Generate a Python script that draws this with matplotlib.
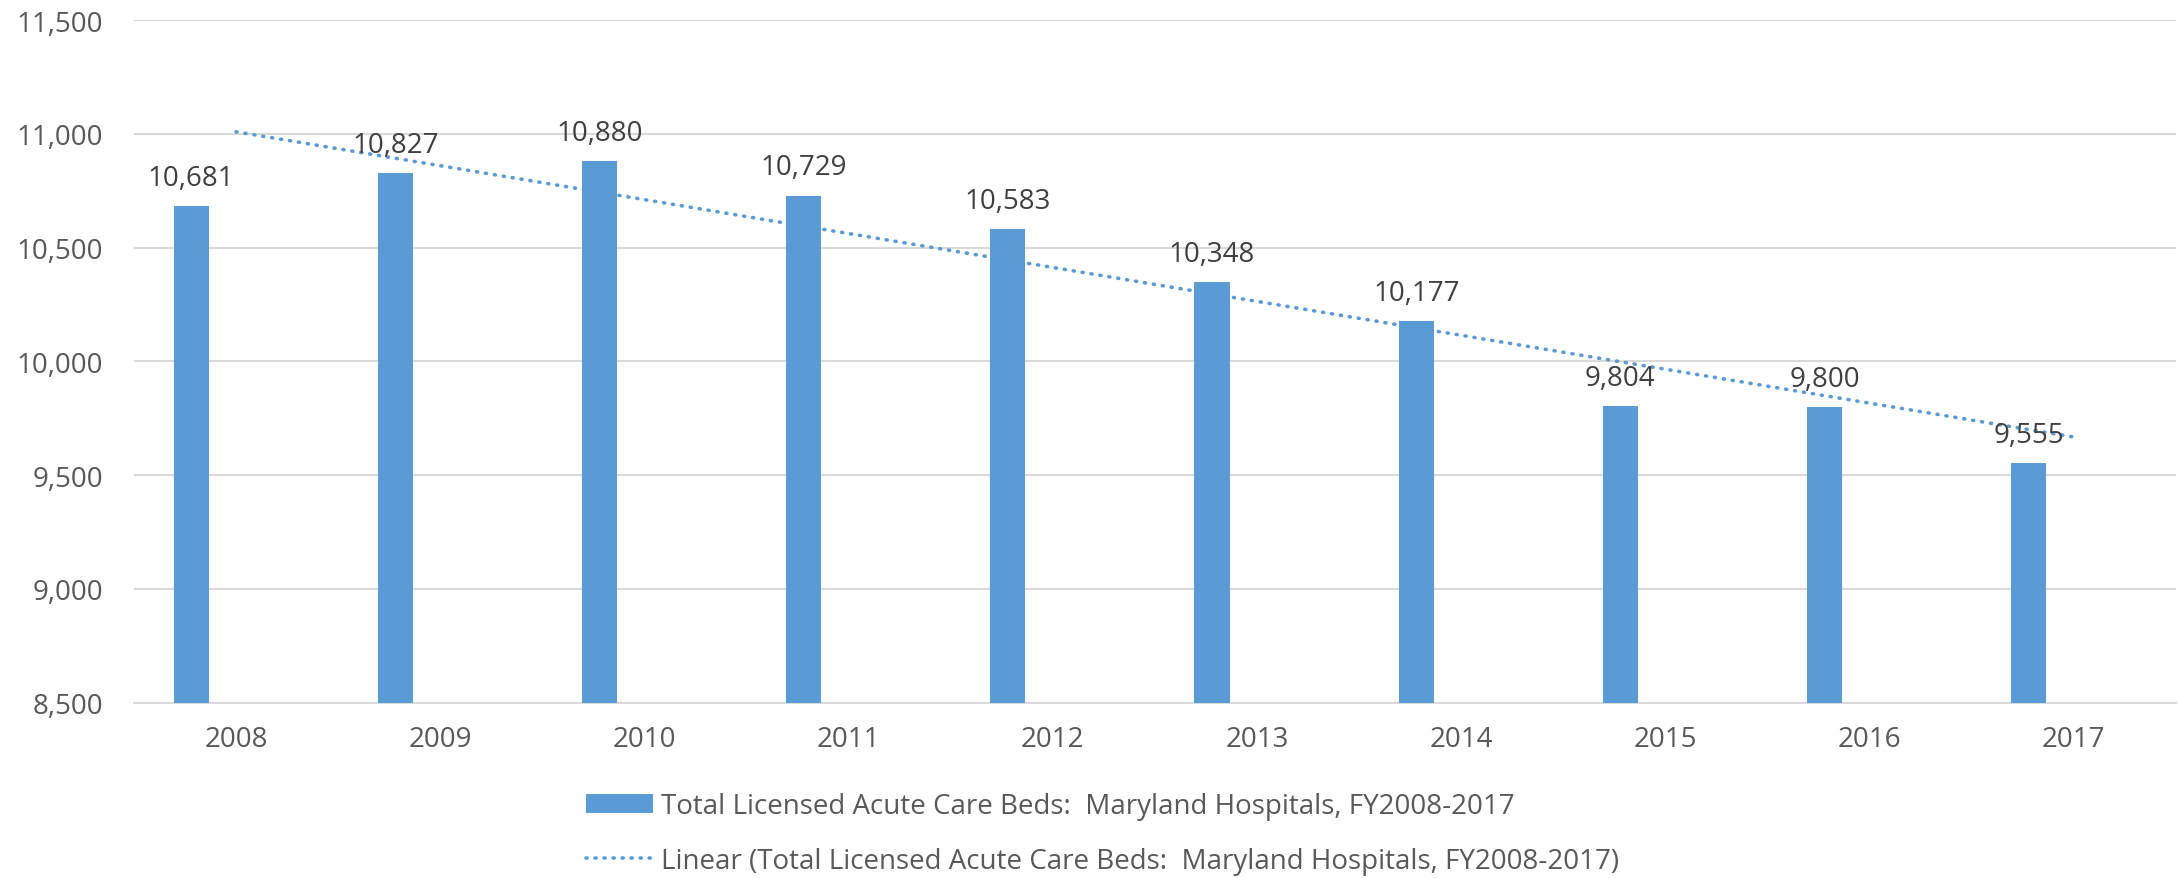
import matplotlib
matplotlib.use("Agg")
import matplotlib.pyplot as plt
from matplotlib import font_manager
from matplotlib.patches import Patch
from matplotlib.lines import Line2D
import numpy as np

years = ["2008", "2009", "2010", "2011", "2012", "2013", "2014", "2015", "2016", "2017"]
beds = [10681, 10827, 10880, 10729, 10583, 10348, 10177, 9804, 9800, 9555]
yticks = [8500, 9000, 9500, 10000, 10500, 11000, 11500]
series_label = "Total Licensed Acute Care Beds:  Maryland Hospitals, FY2008-2017"
trend_label = "Linear (Total Licensed Acute Care Beds:  Maryland Hospitals, FY2008-2017)"

names = {f.name for f in font_manager.fontManager.ttflist}
main_font = "Open Sans" if "Open Sans" in names else "DejaVu Sans"

blue = "#5B9BD5"
fig = plt.figure(figsize=(21.78, 8.79), dpi=100)
ax = fig.add_axes([0.0615, 0.1994, 0.9375, 0.7766])

x = np.arange(len(years))
bar_w = 0.172
offset = -0.22
ax.bar(x + offset, beds, width=bar_w, color=blue, zorder=3)
for xi, v in zip(x, beds):
    ax.text(xi + offset, v + 62, f"{v:,}", ha="center", va="bottom",
            fontsize=20, color="#404040", family=main_font, zorder=5)

coef = np.polyfit(x, beds, 1)
ax.plot(x, np.polyval(coef, x), linestyle=(0, (0.3, 2.2)), color=blue,
        linewidth=2.6, dash_capstyle="round", zorder=4)

ax.set_xlim(-0.5, len(years) - 0.5)
ax.set_ylim(8500, 11500)
ax.set_yticks(yticks)
ax.set_yticklabels([f"{t:,}" for t in yticks])
ax.set_xticks(x)
ax.set_xticklabels(years)
ax.yaxis.grid(True, color="#D9D9D9", linewidth=1.5, zorder=0)
ax.set_axisbelow(True)
for s in ["top", "right", "left"]:
    ax.spines[s].set_visible(False)
ax.spines["bottom"].set_color("#D9D9D9")
ax.spines["bottom"].set_linewidth(1.5)
ax.tick_params(axis="both", length=0, labelsize=20, labelcolor="#595959")
ax.tick_params(axis="y", pad=22)
ax.tick_params(axis="x", pad=16)
for lab in ax.get_xticklabels() + ax.get_yticklabels():
    lab.set_family(main_font)

handles = [Patch(facecolor=blue, edgecolor="none"),
           Line2D([0], [0], color=blue, linestyle=(0, (0.3, 2.2)), linewidth=2.6,
                  dash_capstyle="round")]
leg = fig.legend(handles, [series_label, trend_label], loc="upper left",
                 bbox_to_anchor=(0.269, 0.0975), frameon=False,
                 prop={"family": main_font, "size": 20}, labelcolor="#595959",
                 handlelength=2.4, handleheight=0.65, handletextpad=0.32,
                 labelspacing=0.95, borderpad=0, borderaxespad=0)

fig.savefig("out.png", dpi=100)
